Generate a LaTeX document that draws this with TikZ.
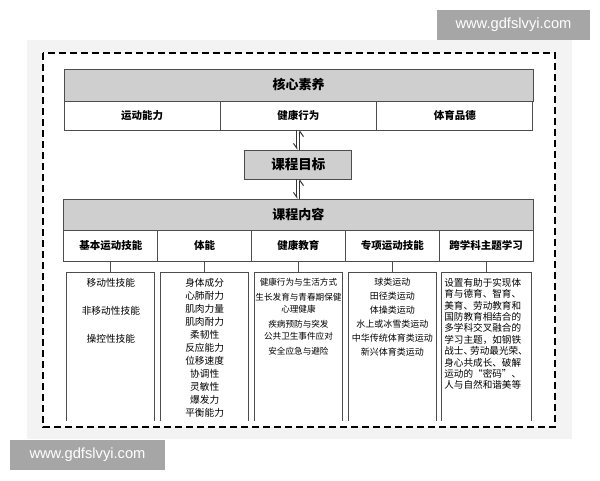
\documentclass[tikz,border=0pt]{standalone}
\usepackage{fontspec}
\setmainfont{Noto Sans CJK SC}
\newfontfamily\wmfont{Liberation Sans}
\usepackage{xcolor}
\usepackage[]{tikz}
\usetikzlibrary{positioning,calc}
\usetikzlibrary{arrows.meta,arrows}
\definecolor{paperGray}{HTML}{F3F3F3}
\definecolor{headGray}{HTML}{CFCFCF}
\definecolor{lineGray}{HTML}{4D4D4D}
\definecolor{markGray}{HTML}{A6A6A6}
\tikzstyle{topHead}  =[draw=lineGray, fill=headGray, line width=1pt, inner sep=0pt, outer sep=0pt, minimum width=469pt, font=\bfseries\fontsize{13}{15}\selectfont]
\tikzstyle{cellA}    =[draw=lineGray, fill=white, line width=1pt, inner sep=0pt, outer sep=0pt, minimum width=156.33pt, minimum height=29pt, font=\bfseries\fontsize{10.5}{12}\selectfont]
\tikzstyle{cellB}    =[cellA, minimum width=93.8pt, minimum height=31pt]
\tikzstyle{goalBox}  =[draw=lineGray, fill=headGray, line width=1pt, inner sep=0pt, outer sep=0pt, minimum width=107pt, minimum height=29pt, font=\bfseries\fontsize{13.5}{15}\selectfont]
\tikzstyle{listBox}  =[draw=none, inner sep=0pt, outer sep=0pt, minimum width=88pt, minimum height=149pt]
\tikzstyle{listText} =[inner sep=0pt, align=center, text=black]
\tikzstyle{listLine} =[draw=lineGray, line width=1pt]
\tikzstyle{wmBox}    =[fill=markGray, text=white, inner sep=0pt, minimum height=30pt, font=\wmfont\fontsize{14.7}{16}\selectfont]
\tikzstyle{harp}     =[draw=black!80, line width=1pt, -{Straight Barb[harpoon,swap,length=5pt,width=7pt]}]

\begin{document}
\begin{tikzpicture}[x=1pt,y=-1pt]
      \useasboundingbox (0,0) rectangle (600,480);
      \fill[paperGray] (27,40) rectangle (572,439);
      \draw[fill=white, line width=1.6pt, dash pattern=on 7pt off 4pt] (43,53) rectangle (555,427);
      \node[wmBox, minimum width=153pt] (wmTop) at (513.5,24.5) {www.gdfslvyi.com};
      \node[wmBox, minimum width=155pt] (wmBottom) at (87.5,454.5) {www.gdfslvyi.com};
      % core literacy
      \node[topHead, minimum height=32pt] (core) at (298.5,85) {核心素养};
      \node[cellA] (ability) [below right = 0pt and 0pt of core.south west] {运动能力};
      \node[cellA] (behaviour) [right = 0pt of ability] {健康行为};
      \node[cellA] (morality) [right = 0pt of behaviour] {体育品德};
      \node[goalBox] (goal) [below = 20pt of behaviour] {课程目标};
      % course content
      \node[topHead, minimum height=31pt] (content) [below = 20pt of goal] {课程内容};
      \node[cellB] (basic) [below right = 0pt and 0pt of content.south west] {基本运动技能};
      \node[cellB] (fitness) [right = 0pt of basic] {体能};
      \node[cellB] (health) [right = 0pt of fitness] {健康教育};
      \node[cellB] (special) [right = 0pt of health] {专项运动技能};
      \node[cellB] (cross) [right = 0pt of special] {跨学科主题学习};
      \node[listBox] (basicList) [below = 11pt of basic] {};
      \node[listBox] (fitnessList) [below = 11pt of fitness] {};
      \node[listBox] (healthList) [below = 11pt of health] {};
      \node[listBox] (specialList) [below = 11pt of special] {};
      \node[listBox, minimum width=90pt] (crossList) [below = 11pt of cross] {};
      \node[listText, font=\fontsize{9.7}{28}\selectfont] (basicText) [below = 6pt of basicList.north] {移动性技能\\非移动性技能\\操控性技能};
      \node[listText, font=\fontsize{9.7}{13}\selectfont] (fitnessText) [below = 6pt of fitnessList.north] {身体成分\\心肺耐力\\肌肉力量\\肌肉耐力\\柔韧性\\反应能力\\位移速度\\协调性\\灵敏性\\爆发力\\平衡能力};
      \node[listText, font=\fontsize{8.6}{12}\selectfont] (healthText) [below = 6pt of healthList.north] {健康行为与生活方式\\[3pt]生长发育与青春期保健\\心理健康\\[3pt]疾病预防与突发\\公共卫生事件应对\\[3pt]安全应急与避险};
      \node[listText, font=\fontsize{9}{14}\selectfont] (specialText) [below = 6pt of specialList.north] {球类运动\\田径类运动\\体操类运动\\水上或冰雪类运动\\中华传统体育类运动\\新兴体育类运动};
      \node[listText, align=left, font=\fontsize{9.6}{11.4}\selectfont] (crossText) [below = 6pt of crossList.north] {设置有助于实现体\\育与德育、智育、\\美育、劳动教育和\\国防教育相结合的\\多学科交叉融合的\\学习主题，如钢铁\\战士、\kern-3pt 劳动最光荣、\\身心共成长、破解\\运动的“密码”、\\人与自然和谐美等};
      \draw[harp] ([xshift=-1.5pt]behaviour.south) -- ([xshift=-1.5pt]goal.north);
      \draw[harp] ([xshift=1.5pt]goal.north) -- ([xshift=1.5pt]behaviour.south);
      \draw[harp] ([xshift=-1.5pt]goal.south) -- ([xshift=-1.5pt]content.north);
      \draw[harp] ([xshift=1.5pt]content.north) -- ([xshift=1.5pt]goal.south);
      \draw[listLine] (basic) -- (basicList);
      \draw[listLine] (fitness) -- (fitnessList);
      \draw[listLine] (health) -- (healthList);
      \draw[listLine] (special) -- (specialList);
      \draw[listLine] (cross) -- (crossList);
      \draw[listLine] (basicList.south west) -- (basicList.north west) -- (basicList.north east) -- (basicList.south east);
      \draw[listLine] (fitnessList.south west) -- (fitnessList.north west) -- (fitnessList.north east) -- (fitnessList.south east);
      \draw[listLine] (healthList.south west) -- (healthList.north west) -- (healthList.north east) -- (healthList.south east);
      \draw[listLine] (specialList.south west) -- (specialList.north west) -- (specialList.north east) -- (specialList.south east);
      \draw[listLine] (crossList.south west) -- (crossList.north west) -- (crossList.north east) -- (crossList.south east);
    \end{tikzpicture}
\end{document}
